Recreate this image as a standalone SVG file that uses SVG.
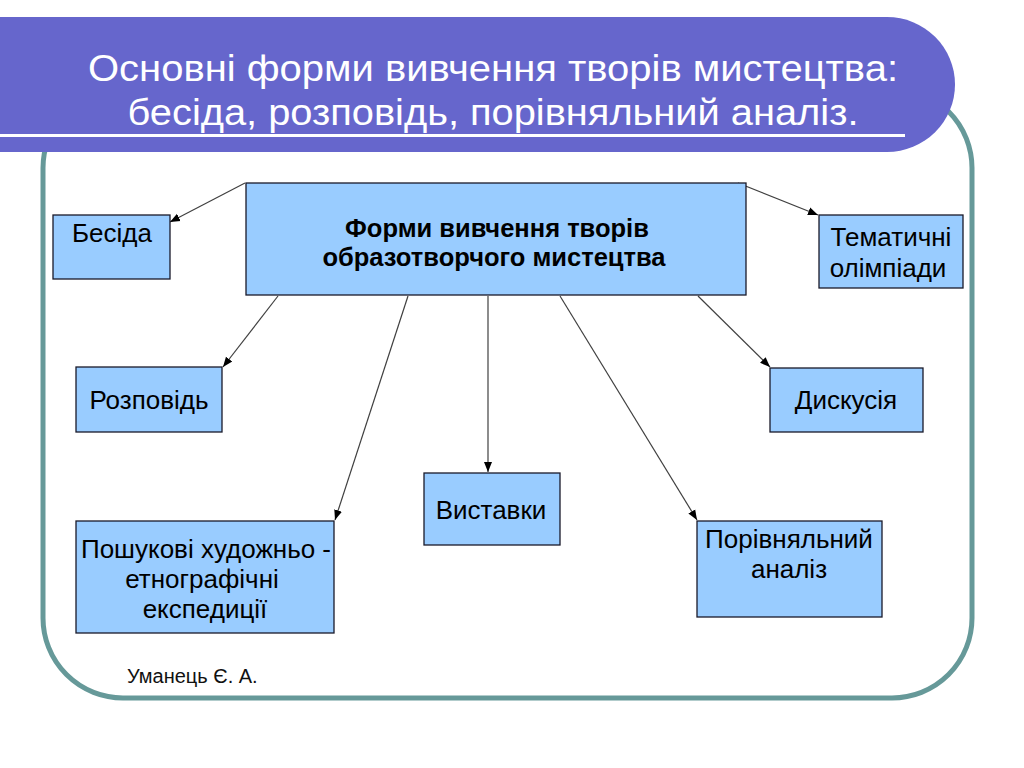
<svg xmlns="http://www.w3.org/2000/svg" width="1024" height="768" viewBox="0 0 1024 768">
<defs>
<style>
.box{fill:#99CCFF;stroke:#1a1a2a;stroke-width:1.3}
.t{font-family:"Liberation Sans",Arial,sans-serif;font-size:26px;fill:#000;text-anchor:middle}
.tb{font-family:"Liberation Sans",Arial,sans-serif;font-size:25.5px;font-weight:bold;fill:#000;text-anchor:middle}
.title{font-family:"Liberation Sans",Arial,sans-serif;font-size:37px;fill:#fff;text-anchor:middle}
.conn{stroke:#404040;stroke-width:1.2;fill:none;marker-end:url(#arr)}
</style>
<marker id="arr" viewBox="0 0 10 10" refX="10" refY="5" markerWidth="10" markerHeight="10" markerUnits="userSpaceOnUse" orient="auto">
<path d="M0,1 L10,5 L0,9 Z" fill="#000"/>
</marker>
</defs>
<rect width="1024" height="768" fill="#fff"/>
<g id="frame">
<rect x="43" y="88" width="929" height="610" rx="80" ry="80" fill="none" stroke="#669999" stroke-width="5"/>
</g>
<g id="banner">
<rect x="-100" y="17" width="1055" height="135" rx="68" ry="68" fill="#6666CC"/>
<rect x="0" y="134" width="905" height="3" fill="#fff"/>
<text class="title" x="493" y="81" textLength="810" lengthAdjust="spacingAndGlyphs">Основні форми вивчення творів мистецтва:</text>
<text class="title" x="493" y="125" textLength="731" lengthAdjust="spacingAndGlyphs">бесіда, розповідь, порівняльний аналіз.</text>
</g>
<g id="connectors">
<line class="conn" x1="245" y1="183" x2="170" y2="222"/>
<line class="conn" x1="278" y1="296" x2="223" y2="367"/>
<line class="conn" x1="738" y1="183" x2="818" y2="215"/>
<line class="conn" x1="698" y1="296" x2="770" y2="367"/>
<line class="conn" x1="488" y1="296" x2="488" y2="472"/>
<line class="conn" x1="560" y1="296" x2="697" y2="520"/>
<line class="conn" x1="408" y1="296" x2="335" y2="520"/>
</g>
<g id="center">
<rect class="box" x="246" y="183" width="500" height="112"/>
<text class="tb" x="497" y="237">Форми вивчення творів</text>
<text class="tb" x="494" y="266">образотворчого мистецтва</text>
</g>
<g id="besida">
<rect class="box" x="53" y="215" width="117" height="64"/>
<text class="t" x="72" y="242" style="text-anchor:start">Бесіда</text>
</g>
<g id="tematychni">
<rect class="box" x="819" y="215" width="144" height="73"/>
<text class="t" x="891" y="246">Тематичні</text>
<text class="t" x="888" y="277">олімпіади</text>
</g>
<g id="rozpovid">
<rect class="box" x="76" y="367" width="146" height="65"/>
<text class="t" x="149" y="409">Розповідь</text>
</g>
<g id="dyskusiia">
<rect class="box" x="770" y="368" width="153" height="64"/>
<text class="t" x="846" y="409">Дискусія</text>
</g>
<g id="vystavky">
<rect class="box" x="424" y="473" width="136" height="72"/>
<text class="t" x="491" y="519">Виставки</text>
</g>
<g id="poshukovi">
<rect class="box" x="76" y="521" width="258" height="112"/>
<text class="t" x="206" y="558">Пошукові художньо -</text>
<text class="t" x="202" y="588">етнографічні</text>
<text class="t" x="205" y="618">експедиції</text>
</g>
<g id="porivnialnyi">
<rect class="box" x="697" y="521" width="185" height="96"/>
<text class="t" x="789" y="548">Порівняльний</text>
<text class="t" x="789" y="578">аналіз</text>
</g>
<g id="author">
<text x="127" y="683" style="font-family:'Liberation Sans',Arial,sans-serif;font-size:20px;fill:#111">Уманець Є. А.</text>
</g>
</svg>
